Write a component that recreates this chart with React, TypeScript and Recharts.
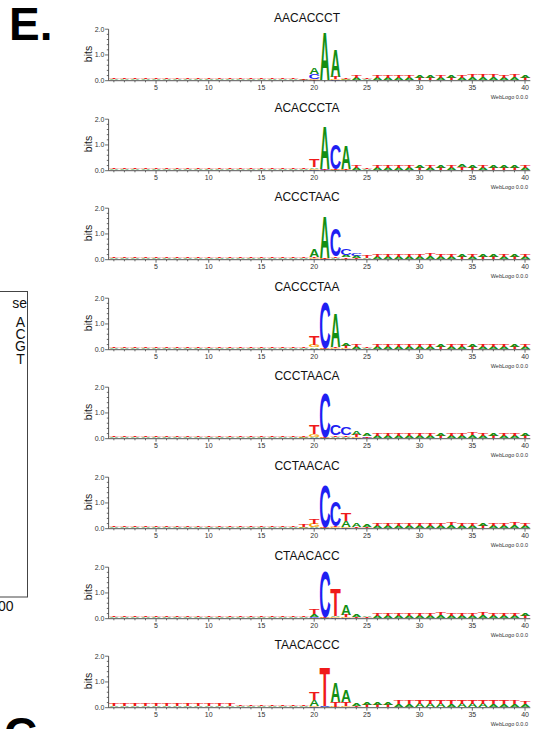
import { BarChart, Bar, XAxis, YAxis } from 'recharts';

// Per-position letter heights (bits), positions 1..40
const A1 = [.03,.03,.03,.04,.03,.03,.03,.03,.04,.04, .04,.04,.03,.03,.03,.04,.03,.03,.02,.25, 1.92,1.1,.04,.1,.05,.08,.09,.09,.1,.12, .12,.1,.11,.1,.11,.11,.11,.1,.11,.11];
const C1 = [.01,.01,.01,.01,.01,.01,.01,.01,.01,.01, .01,.01,.01,.01,.01,.01,.01,.01,.01,.2, .01,.02,.01,.01,.01,.01,.01,.01,.01,.01, .01,.01,.01,.01,.01,.01,.01,.01,.01,.01];
const G1 = [.01,.01,.01,.01,.01,.01,.01,.01,.01,.01, .01,.01,.01,.01,.01,.01,.01,.01,.01,.03, .01,.03,.02,.01,.01,.01,.01,.01,.01,.01, .01,.01,.01,.01,.01,.01,.01,.01,.01,.01];
const T1 = [.05,.04,.05,.05,.04,.04,.05,.05,.04,.05, .05,.05,.05,.04,.04,.05,.04,.04,.04,.02, .01,.1,.06,.12,.06,.09,.1,.1,.1,.09, .1,.11,.1,.11,.12,.12,.12,.12,.11,.1];

const A2 = [.03,.04,.03,.03,.04,.03,.04,.03,.03,.04, .03,.04,.03,.03,.04,.03,.03,.04,.03,.06, 1.7,.02,.9,.08,.06,.09,.1,.09,.1,.11, .1,.11,.1,.12,.11,.1,.11,.12,.11,.1];
const C2 = [.01,.01,.01,.01,.01,.01,.01,.01,.01,.01, .01,.01,.01,.01,.01,.01,.01,.01,.01,.03, .02,.95,.01,.01,.01,.01,.01,.01,.01,.01, .01,.01,.01,.01,.01,.01,.01,.01,.01,.01];
const G2 = [.01,.01,.01,.01,.01,.01,.01,.01,.01,.01, .01,.01,.01,.01,.01,.01,.01,.01,.01,.05, .01,.02,.02,.01,.01,.01,.01,.01,.01,.01, .01,.01,.01,.01,.01,.01,.01,.01,.01,.01];
const T2 = [.05,.05,.06,.05,.05,.06,.05,.05,.06,.05, .05,.06,.05,.05,.05,.06,.05,.05,.06,.3, .02,.03,.05,.08,.07,.1,.1,.11,.1,.1, .11,.1,.11,.11,.1,.11,.1,.1,.1,.11];

const A3 = [.03,.04,.03,.03,.04,.03,.03,.04,.03,.03, .04,.03,.03,.04,.03,.03,.04,.03,.03,.3, 1.65,.05,.08,.08,.06,.09,.1,.09,.1,.1, .11,.1,.1,.11,.1,.11,.11,.1,.11,.1];
const C3 = [.01,.01,.01,.01,.01,.01,.01,.01,.01,.01, .01,.01,.01,.01,.01,.01,.01,.01,.01,.03, .02,1.1,.25,.1,.01,.01,.01,.01,.01,.01, .01,.01,.01,.01,.01,.01,.01,.01,.01,.01];
const G3 = [.01,.01,.01,.01,.01,.01,.01,.01,.01,.01, .01,.01,.01,.01,.01,.01,.01,.01,.01,.04, .02,.03,.03,.01,.01,.01,.01,.01,.01,.01, .01,.01,.01,.01,.01,.01,.01,.01,.01,.01];
const T3 = [.05,.05,.04,.05,.05,.05,.04,.05,.05,.05, .05,.05,.04,.05,.05,.05,.05,.04,.05,.05, .02,.05,.06,.06,.12,.1,.1,.11,.1,.11, .11,.1,.11,.1,.11,.1,.1,.11,.1,.1];

const A4 = [.03,.03,.04,.03,.03,.04,.03,.03,.04,.03, .03,.04,.03,.03,.04,.03,.03,.03,.04,.06, .02,1.35,.12,.08,.06,.08,.09,.09,.1,.1, .1,.11,.1,.1,.11,.1,.1,.1,.11,.1];
const C4 = [.01,.01,.01,.01,.01,.01,.01,.01,.01,.01, .01,.01,.01,.01,.01,.01,.01,.01,.01,.04, 1.82,.02,.02,.01,.01,.01,.01,.01,.01,.01, .01,.01,.01,.01,.01,.01,.01,.01,.01,.01];
const G4 = [.01,.01,.01,.01,.01,.01,.01,.01,.01,.01, .01,.01,.01,.01,.01,.01,.01,.01,.01,.1, .02,.03,.03,.01,.01,.01,.01,.01,.01,.01, .01,.01,.01,.01,.01,.01,.01,.01,.01,.01];
const T4 = [.05,.05,.05,.04,.05,.05,.05,.04,.05,.05, .05,.04,.05,.05,.05,.05,.04,.05,.05,.35, .02,.05,.1,.08,.07,.1,.1,.1,.11,.1, .11,.1,.11,.11,.1,.1,.11,.1,.1,.11];

const A5 = [.03,.04,.03,.03,.03,.04,.03,.04,.03,.03, .04,.03,.03,.04,.03,.03,.04,.03,.04,.04, .02,.04,.04,.15,.08,.08,.09,.1,.09,.1, .1,.11,.1,.1,.11,.1,.11,.1,.1,.11];
const C5 = [.01,.01,.01,.01,.01,.01,.01,.01,.01,.01, .01,.01,.01,.01,.01,.01,.01,.01,.01,.03, 1.74,.4,.3,.02,.02,.01,.01,.01,.01,.01, .01,.01,.01,.01,.01,.01,.01,.01,.01,.01];
const G5 = [.01,.01,.01,.01,.01,.01,.01,.01,.01,.01, .01,.01,.01,.01,.01,.01,.01,.01,.02,.12, .02,.03,.03,.03,.01,.01,.01,.01,.01,.01, .01,.01,.01,.01,.01,.01,.01,.01,.01,.01];
const T5 = [.05,.05,.05,.05,.04,.05,.05,.05,.05,.04, .05,.05,.05,.05,.05,.04,.05,.05,.07,.38, .02,.06,.06,.08,.06,.1,.1,.11,.1,.1, .11,.1,.1,.11,.11,.1,.1,.11,.1,.1];

const A6 = [.03,.03,.04,.03,.04,.03,.03,.04,.03,.03, .04,.03,.03,.03,.04,.03,.03,.04,.05,.04, .02,.03,.25,.14,.09,.08,.09,.09,.1,.1, .1,.1,.11,.1,.1,.11,.1,.1,.11,.1];
const C6 = [.01,.01,.01,.01,.01,.01,.01,.01,.01,.01, .01,.01,.01,.01,.01,.01,.01,.01,.01,.03, 1.66,.95,.02,.01,.01,.01,.01,.01,.01,.01, .01,.01,.01,.01,.01,.01,.01,.01,.01,.01];
const G6 = [.01,.01,.01,.01,.01,.01,.01,.01,.01,.01, .01,.01,.01,.01,.01,.01,.01,.01,.02,.13, .02,.03,.03,.01,.01,.01,.01,.01,.01,.01, .01,.01,.01,.01,.01,.01,.01,.01,.01,.01];
const T6 = [.05,.05,.05,.05,.05,.04,.05,.05,.05,.05, .05,.05,.04,.05,.05,.05,.05,.05,.12,.2, .02,.03,.32,.06,.06,.1,.11,.1,.1,.11, .1,.1,.11,.1,.11,.1,.1,.1,.11,.1];

const A7 = [.03,.04,.03,.03,.04,.03,.03,.03,.04,.03, .03,.04,.03,.03,.03,.04,.03,.03,.04,.12, .02,.05,.4,.1,.07,.08,.09,.1,.09,.1, .1,.11,.1,.1,.1,.11,.1,.1,.1,.11];
const C7 = [.01,.01,.01,.01,.01,.01,.01,.01,.01,.01, .01,.01,.01,.01,.01,.01,.01,.01,.01,.04, 1.8,.02,.03,.01,.01,.01,.01,.01,.01,.01, .01,.01,.01,.01,.01,.01,.01,.01,.01,.01];
const G7 = [.01,.01,.01,.01,.01,.01,.01,.01,.01,.01, .01,.01,.01,.01,.01,.01,.01,.01,.01,.03, .02,.03,.03,.01,.01,.01,.01,.01,.01,.01, .01,.01,.01,.01,.01,.01,.01,.01,.01,.01];
const T7 = [.05,.05,.05,.05,.05,.05,.04,.05,.05,.05, .05,.05,.05,.05,.04,.05,.05,.05,.06,.2, .02,1.1,.1,.06,.06,.1,.1,.11,.11,.1, .11,.11,.1,.11,.1,.11,.11,.1,.1,.1];

const A8 = [.05,.05,.05,.05,.05,.05,.05,.05,.05,.05, .05,.05,.05,.05,.05,.05,.05,.05,.05,.25, .02,.78,.45,.1,.1,.11,.11,.12,.12,.13, .13,.13,.12,.13,.13,.13,.12,.12,.12,.12];
const C8 = [.01,.01,.01,.01,.01,.01,.01,.01,.01,.01, .01,.01,.01,.01,.01,.01,.01,.01,.01,.02, .05,.01,.01,.01,.01,.01,.01,.01,.01,.01, .01,.01,.01,.01,.01,.01,.01,.01,.01,.01];
const G8 = [.01,.01,.01,.01,.01,.01,.01,.01,.01,.01, .01,.01,.01,.01,.01,.01,.01,.01,.01,.03, .01,.03,.06,.01,.01,.01,.01,.01,.01,.01, .01,.01,.01,.01,.01,.01,.01,.01,.01,.01];
const T8 = [.08,.08,.08,.08,.08,.08,.08,.08,.08,.08, .08,.08,.07,.07,.07,.07,.07,.07,.07,.32, 1.52,.18,.17,.05,.08,.1,.1,.13,.13,.14, .15,.15,.14,.14,.14,.14,.14,.14,.13,.12];

const PANELS = [
  { title: 'AACACCCT', A: A1, C: C1, G: G1, T: T1 },
  { title: 'ACACCCTA', A: A2, C: C2, G: G2, T: T2 },
  { title: 'ACCCTAAC', A: A3, C: C3, G: G3, T: T3 },
  { title: 'CACCCTAA', A: A4, C: C4, G: G4, T: T4 },
  { title: 'CCCTAACA', A: A5, C: C5, G: G5, T: T5 },
  { title: 'CCTAACAC', A: A6, C: C6, G: G6, T: T6 },
  { title: 'CTAACACC', A: A7, C: C7, G: G7, T: T7 },
  { title: 'TAACACCC', A: A8, C: C8, G: G8, T: T8 },
];

const Y_TICKS = [0, 0.2, 0.4, 0.6, 0.8, 1, 1.2, 1.4, 1.6, 1.8, 2];

const FONT = '"Liberation Sans", Arial, Helvetica, sans-serif';
const CAP = 71.6; // cap height of the bold face at font-size 100
const GLYPH: Record<string, { ink: number; color: string }> = {
  A: { ink: 72, color: '#138f13' },
  C: { ink: 63, color: '#1f1ff2' },
  G: { ink: 67, color: '#f5a300' },
  T: { ink: 58, color: '#ef1a1a' },
};

const PANEL_STEP = 89.6;

// stack letters per column, smallest at the bottom
function buildRows(p: typeof PANELS[number]) {
  return p.A.map((_, i) => {
    const col = (['A', 'C', 'G', 'T'] as const)
      .map(l => ({ l, v: p[l][i] }))
      .sort((a, b) => a.v - b.v);
    const row: Record<string, any> = { pos: i + 1 };
    col.forEach((c, k) => { row[`r${k}`] = c.v; row[`l${k}`] = c.l; });
    return row;
  });
}

const letterShape = (rank: number) => (p: any) => {
  const w = p.width, h = p.height;
  if (!(h > 0) || !(w > 0)) return <g />;
  const key = p.payload[`l${rank}`];
  const g = GLYPH[key];
  return (
    <text
      transform={`translate(${p.x + w / 2},${p.y + h}) scale(${w / g.ink},${h / CAP})`}
      textAnchor="middle" fontSize={100} fontWeight="bold" fontFamily={FONT} fill={g.color}
    >{key}</text>
  );
};

const XTick = (p: any) => {
  const v = p.payload.value;
  const major = v % 5 === 0;
  return (
    <g>
      <line x1={p.x} x2={p.x} y1={p.y} y2={p.y + (major ? 3 : 1.6)} stroke="#444" strokeWidth={0.8} />
      {major && <text x={p.x} y={p.y + 9.5} textAnchor="middle" fontSize={7} fontFamily={FONT} fill="#333">{v}</text>}
    </g>
  );
};

const YTick = (p: any) => {
  const v = p.payload.value;
  const major = Math.abs(v - Math.round(v)) < 1e-6;
  return (
    <g>
      <line x1={p.x - (major ? 3.5 : 1.8)} x2={p.x} y1={p.y} y2={p.y} stroke="#444" strokeWidth={0.8} />
      {major && <text x={p.x - 4.2} y={p.y + 2.5} textAnchor="end" fontSize={7} fontFamily={FONT} fill="#333">{v.toFixed(1)}</text>}
    </g>
  );
};

function LogoPanel({ panel, top }: { panel: typeof PANELS[number]; top: number }) {
  const rows = buildRows(panel);
  return (
    <>
      <div style={{ position: 'absolute', left: 207, top: top + 10, width: 200, textAlign: 'center', fontSize: 12, lineHeight: '16px', color: '#111' }}>
        {panel.title}
      </div>
      <div style={{ position: 'absolute', left: 73, top: top + 48, width: 30, height: 12, lineHeight: '12px', fontSize: 10.5, textAlign: 'center', color: '#222', transform: 'rotate(-90deg)' }}>
        bits
      </div>
      <div style={{ position: 'absolute', left: 80, top }}>
        <BarChart width={458} height={100} data={rows} margin={{ top: 29.2, right: 7.7, bottom: 9.3, left: 0 }} barCategoryGap="4%">
          <XAxis dataKey="pos" interval={0} tickSize={0} tickMargin={0} tickLine={false} height={10}
            axisLine={{ stroke: '#444', strokeWidth: 0.9 }} tick={<XTick />} />
          <YAxis type="number" domain={[0, 2]} ticks={Y_TICKS} interval={0} width={28.6} tickSize={0} tickMargin={0}
            tickLine={false} axisLine={{ stroke: '#444', strokeWidth: 0.9 }} tick={<YTick />} allowDataOverflow />
          {[0, 1, 2, 3].map(k => (
            <Bar key={k} dataKey={`r${k}`} stackId="s" isAnimationActive={false} shape={letterShape(k)} />
          ))}
        </BarChart>
      </div>
      <div style={{ position: 'absolute', left: 440, width: 88, top: top + 94, textAlign: 'right', fontSize: 5.5, lineHeight: '6px', color: '#333' }}>
        WebLogo 0.0.0
      </div>
    </>
  );
}

export default function App() {
  return (
    <div style={{ position: 'absolute', left: 0, top: 0, width: 538, height: 729, overflow: 'hidden', background: '#fff', fontFamily: FONT }}>
      <svg width={538} height={729} style={{ position: 'absolute', left: 0, top: 0 }}>
        <text x={9} y={40} fontSize={46} fontWeight="bold" fontFamily={FONT} fill="#000">E.</text>
        <rect x={-2} y={291.5} width={29.5} height={305.5} fill="none" stroke="#444" strokeWidth={1} />
        <text x={27} y={308} textAnchor="end" fontSize={14} fontFamily={FONT} fill="#111">se</text>
        {['A', 'C', 'G', 'T'].map((l, i) => (
          <text key={l} x={20.5} y={327 + i * 12.2} textAnchor="middle" fontSize={14} fontFamily={FONT} fill="#111">{l}</text>
        ))}
        <text x={-2} y={611} fontSize={14} fontFamily={FONT} fill="#111">00</text>
        <text x={4} y={750} fontSize={46} fontWeight="bold" fontFamily={FONT} fill="#000">C</text>
      </svg>
      {PANELS.map((p, i) => (
        <LogoPanel key={p.title} panel={p} top={i * PANEL_STEP} />
      ))}
    </div>
  );
}
